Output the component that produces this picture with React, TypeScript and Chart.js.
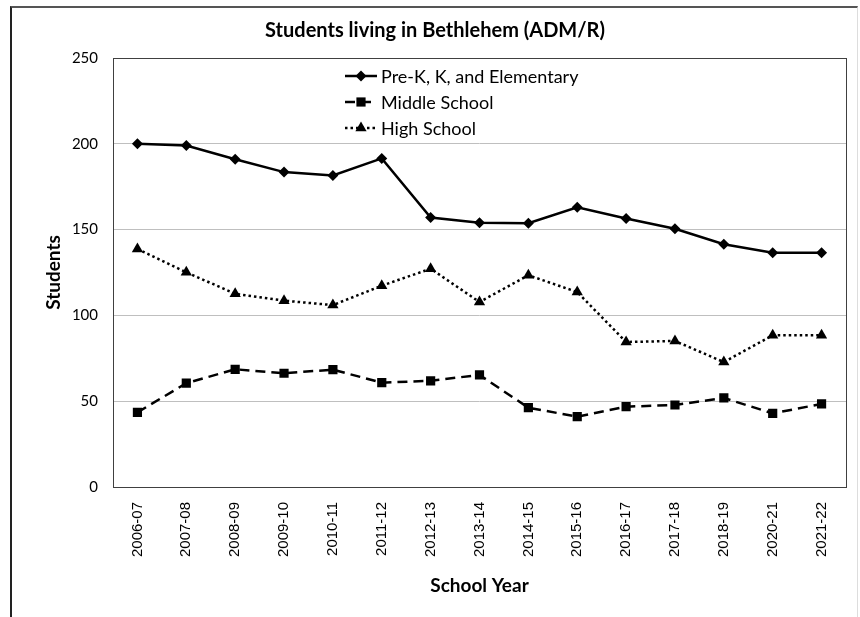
import React, { useEffect, useRef } from 'react';
import { Chart, registerables } from 'chart.js';

Chart.register(...registerables);

const schoolYears = ['2006-07', '2007-08', '2008-09', '2009-10', '2010-11', '2011-12', '2012-13', '2013-14', '2014-15', '2015-16', '2016-17', '2017-18', '2018-19', '2020-21', '2021-22'];
const elementary = [200, 199, 191, 183.5, 181.5, 191.5, 157, 154, 153.7, 163, 156.5, 150.5, 141.5, 136.5, 136.5];
const middleSchool = [43.5, 60.5, 68.6, 66.3, 68.4, 60.8, 61.9, 65.3, 46.2, 41, 46.8, 47.8, 51.9, 42.9, 48.4];
const highSchool = [138.7, 125.1, 112.6, 108.6, 106, 117.3, 127.2, 107.8, 123.4, 113.6, 84.5, 85.1, 72.8, 88.4, 88.4];
const seriesNames = ['Pre-K, K, and Elementary', 'Middle School', 'High School'];
const yMin = 0;
const yMax = 250;
const yStep = 50;
const chartTitle = 'Students living in Bethlehem (ADM/R)';
const xTitle = 'School Year';
const yTitle = 'Students';

const SANS = 'Lato, "Open Sans", sans-serif';

function drawMarker(ctx: CanvasRenderingContext2D, style: string, x: number, y: number, r: number) {
  ctx.beginPath();
  if (style === 'rectRot') {
    ctx.moveTo(x, y - r);
    ctx.lineTo(x + r, y);
    ctx.lineTo(x, y + r);
    ctx.lineTo(x - r, y);
  } else if (style === 'rect') {
    const s = r * Math.SQRT1_2;
    ctx.rect(x - s, y - s, 2 * s, 2 * s);
  } else {
    for (let i = 0; i < 3; i++) {
      const a = (i * 2 * Math.PI) / 3;
      const px = x + Math.sin(a) * r;
      const py = y - Math.cos(a) * r;
      if (i === 0) ctx.moveTo(px, py);
      else ctx.lineTo(px, py);
    }
  }
  ctx.closePath();
  ctx.fill();
}

const decorPlugin = {
  id: 'decor',
  beforeDatasetsDraw(chart: any) {
    const { ctx, chartArea } = chart;
    ctx.save();
    ctx.strokeStyle = '#404040';
    ctx.lineWidth = 1;
    ctx.strokeRect(Math.round(chartArea.left) + 0.5, Math.round(chartArea.top) + 0.5, Math.round(chartArea.right - chartArea.left), Math.round(chartArea.bottom - chartArea.top));
    ctx.restore();
  },
  afterDraw(chart: any) {
    const { ctx } = chart;
    ctx.save();
    // title
    ctx.fillStyle = '#000';
    ctx.font = `bold 20px ${SANS}`;
    ctx.textAlign = 'center';
    ctx.textBaseline = 'middle';
    ctx.fillText(chartTitle, 435, 31);
    // legend
    const x0 = 345;
    const x1 = 377;
    const rows = [76, 102, 128];
    chart.data.datasets.forEach((ds: any, i: number) => {
      const y = rows[i];
      ctx.strokeStyle = '#000';
      ctx.fillStyle = '#000';
      ctx.lineWidth = ds.borderWidth;
      ctx.setLineDash(ds.borderDash || []);
      ctx.beginPath();
      ctx.moveTo(x0, y);
      ctx.lineTo(x1, y);
      ctx.stroke();
      ctx.setLineDash([]);
      drawMarker(ctx, ds.pointStyle, (x0 + x1) / 2, y, ds.pointRadius);
      ctx.font = `18px ${SANS}`;
      ctx.textAlign = 'left';
      ctx.textBaseline = 'middle';
      ctx.fillText(ds.label, 381, y + 1);
    });
    ctx.restore();
  },
};

export default function App() {
  const ref = useRef<HTMLCanvasElement | null>(null);

  useEffect(() => {
    if (!ref.current) return;
    const chart = new Chart(ref.current, {
      type: 'line',
      data: {
        labels: schoolYears,
        datasets: [
          {
            label: seriesNames[0],
            data: elementary,
            borderColor: '#000',
            backgroundColor: '#000',
            borderWidth: 2.5,
            pointStyle: 'rectRot',
            pointRadius: 5.5,
            pointBorderWidth: 0,
            tension: 0,
          },
          {
            label: seriesNames[1],
            data: middleSchool,
            borderColor: '#000',
            backgroundColor: '#000',
            borderWidth: 2.5,
            borderDash: [10, 6],
            pointStyle: 'rect',
            pointRadius: 6.5,
            pointBorderWidth: 0,
            tension: 0,
          },
          {
            label: seriesNames[2],
            data: highSchool,
            borderColor: '#000',
            backgroundColor: '#000',
            borderWidth: 2.5,
            borderDash: [2.5, 3],
            pointStyle: 'triangle',
            pointRadius: 6.5,
            pointBorderWidth: 0,
            tension: 0,
          },
        ],
      } as any,
      options: {
        animation: false,
        responsive: false,
        maintainAspectRatio: false,
        layout: { padding: { top: 58, right: 14, left: 0, bottom: 0 } },
        plugins: {
          legend: { display: false },
          title: { display: false },
          tooltip: { enabled: false },
        },
        scales: {
          x: {
            type: 'category',
            offset: true,
            grid: { display: false },
            border: { display: false },
            ticks: {
              minRotation: 90,
              maxRotation: 90,
              autoSkip: false,
              padding: 7,
              color: '#000',
              font: { family: '"Liberation Sans", Arial, sans-serif', size: 15 },
            },
            title: {
              display: true,
              text: xTitle,
              color: '#000',
              font: { family: SANS, size: 19, weight: 'bold' },
              padding: { top: 0, bottom: 20 },
            },
            afterFit: (s: any) => {
              s.height = 130;
            },
          },
          y: {
            min: yMin,
            max: yMax,
            grid: { color: '#bfbfbf', lineWidth: 1, drawTicks: false },
            border: { display: false },
            ticks: {
              stepSize: yStep,
              padding: 15,
              color: '#000',
              font: { family: SANS, size: 15 },
            },
            title: {
              display: true,
              text: yTitle,
              color: '#000',
              font: { family: SANS, size: 19, weight: 'bold' },
              padding: { top: 42, bottom: 0 },
            },
            afterFit: (s: any) => {
              s.width = 113;
            },
          },
        },
      } as any,
      plugins: [decorPlugin],
    });
    return () => chart.destroy();
  }, []);

  return (
    <div style={{ position: 'fixed', left: 0, top: 0, width: 860, height: 617, background: '#fff' }}>
      <div
        style={{
          position: 'absolute',
          left: 10,
          top: 6,
          width: 848,
          height: 620,
          borderLeft: '2px solid #222',
          borderTop: '2px solid #555',
          borderRight: '1px solid #ddd',
          boxSizing: 'border-box',
        }}
      />
      <canvas ref={ref} width={860} height={617} style={{ position: 'absolute', left: 0, top: 0, width: 860, height: 617 }} />
    </div>
  );
}
